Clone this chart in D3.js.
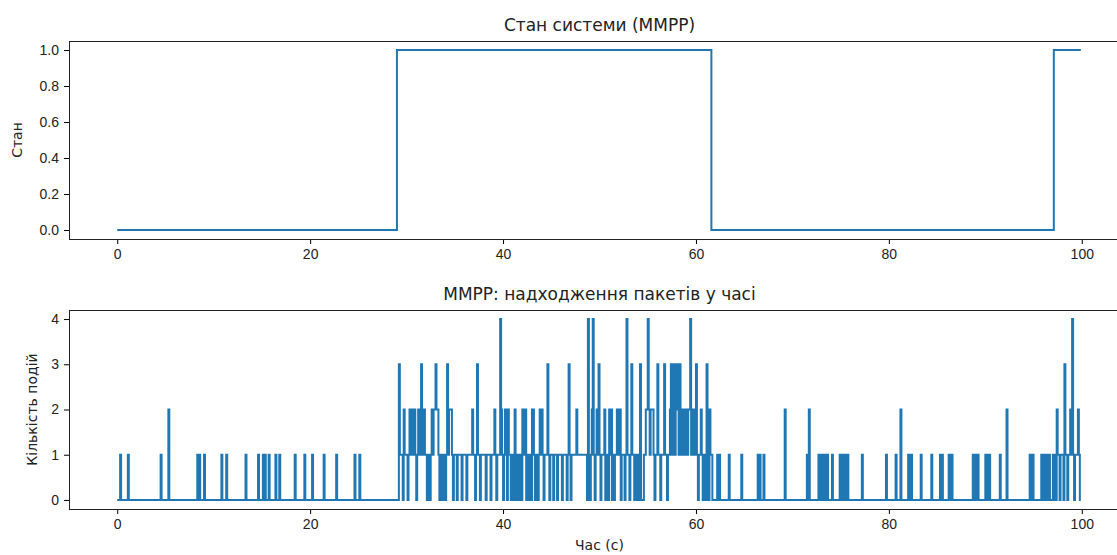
<!DOCTYPE html>
<html>
  <head>
    <meta charset="utf-8">
    <title>MMPP</title>
    <script src="https://cdn.jsdelivr.net/npm/d3@7"></script>
    <style>
body {
  margin: 0;
  background: #fff;
}
svg {
  font-family: "DejaVu Sans", sans-serif;
}
.axis path, .axis line {
  stroke: #000;
  stroke-width: 1;
}
.axis text {
  font-size: 14px;
  fill: #222;
}
.frame {
  fill: none;
  stroke: #222;
  stroke-width: 1;
}
.title {
  font-size: 17px;
  fill: #222;
}
.label {
  font-size: 14px;
  fill: #222;
}
.series {
  fill: none;
  stroke: #1f77b4;
  stroke-width: 2;
}
    </style>
  </head>
  <body>
    <script>

// state of the modulating chain: switch times and the state held after each
var stateTimes = [0, 29.0, 61.6, 97.1, 99.9];
var stateValues = [0, 1, 0, 1, 1];

// packet arrivals, sparse part (time in s, count in a 0.1 s bin)
var eventTimes = [0.3, 1.1, 4.5, 5.3, 8.3, 8.5, 9.0, 10.8, 11.3, 13.3, 14.6, 15.1, 15.3,
  15.7, 16.4, 16.8, 18.4, 19.4, 20.2, 21.4, 22.7, 24.6, 25.1,
  63.4, 64.7, 66.4, 66.6, 67.0, 69.2, 71.5, 71.7, 72.7, 72.9, 73.1, 73.3, 73.6, 74.1,
  74.9, 75.1, 75.3, 75.5, 75.7, 77.2, 79.7, 80.7, 81.2, 82.0, 82.3, 83.3, 84.4, 85.3,
  85.5, 86.2, 86.5, 88.7, 88.9, 89.2, 90.0, 90.2, 90.4, 91.5, 92.2, 94.6, 94.9, 95.8,
  96.0, 96.1, 96.3, 96.5, 96.6];
var eventCounts = [1, 1, 1, 2, 1, 1, 1, 1, 1, 1, 1, 1, 1,
  1, 1, 1, 1, 1, 1, 1, 1, 1, 1,
  1, 1, 1, 1, 1, 2, 1, 2, 1, 1, 1, 1, 1, 1,
  1, 1, 1, 1, 1, 1, 1, 1, 2, 1, 1, 1, 1, 1,
  1, 1, 1, 1, 1, 1, 1, 1, 1, 1, 2, 1, 1, 1,
  1, 1, 1, 1, 1];

// packet arrivals, busy stretches: one digit per 0.1 s bin
var busyStart1 = 290;
var busyCounts1 =
  "0031110211" + "1012121121" + "0121131221" + "1001012122" + "3221011011" +
  "0131222101" + "1101111011" + "1101111121" + "1013110111" + "1101111011" +
  "1210111421" + "0121021101" + "1021011010" + "2112011010" + "2210110121" +
  "2101113101" + "1101110111" + "1011110131" + "0111112111" + "1111111041" +
  "0124101213" + "1011120110" + "2120101122" + "1201110141" + "1013110110" +
  "0130001122" + "4212221011" + "3110111311" + "0112312312" + "3213212212" +
  "2122411211" + "3101121011" + "0310211000" + "0010100000";
var busyStart2 = 970;
var busyCounts2 = "1010211011" + "1031101121" + "4101112100";

var nBins = 1000, dt = 0.1;

var counts = d3.range(nBins).map(function() { return 0; });
eventTimes.forEach(function(t, i) { counts[Math.round(t / dt)] = eventCounts[i]; });
busyCounts1.split("").forEach(function(c, i) { counts[busyStart1 + i] = +c; });
busyCounts2.split("").forEach(function(c, i) { counts[busyStart2 + i] = +c; });

var arrivals = counts.map(function(c, i) { return {t: i * dt, c: c}; });
var states = stateTimes.map(function(t, i) { return {t: t, c: stateValues[i]}; });

var W = 1117, H = 555;
var left = 69, right = 1130;

var svg = d3.select("body").append("svg")
    .attr("width", W)
    .attr("height", H);

var x = d3.scaleLinear().domain([-5, 105]).range([left, right]);

function panel(top, bottom, yDomain, yTicks, yFormat, data, title, ylabel, ylabelX) {
  var y = d3.scaleLinear().domain(yDomain).range([bottom, top]);
  var g = svg.append("g");

  g.append("g")
      .attr("class", "axis")
      .attr("transform", "translate(0," + bottom + ")")
      .call(d3.axisBottom(x).tickValues([0, 20, 40, 60, 80, 100]).tickSize(5).tickPadding(5))
      .call(function(a) { a.select(".domain").remove(); });

  g.append("g")
      .attr("class", "axis")
      .attr("transform", "translate(" + left + ",0)")
      .call(d3.axisLeft(y).tickValues(yTicks).tickFormat(yFormat).tickSize(5).tickPadding(5))
      .call(function(a) { a.select(".domain").remove(); });

  var line = d3.line()
      .curve(d3.curveStepAfter)
      .x(function(d) { return x(d.t); })
      .y(function(d) { return y(d.c); });

  g.append("path")
      .datum(data)
      .attr("class", "series")
      .attr("d", line);

  g.append("rect")
      .attr("class", "frame")
      .attr("x", left + 0.5)
      .attr("y", top + 0.5)
      .attr("width", right - left)
      .attr("height", bottom - top);

  g.append("text")
      .attr("class", "title")
      .attr("x", (left + right) / 2)
      .attr("y", top - 10)
      .attr("text-anchor", "middle")
      .text(title);

  g.append("text")
      .attr("class", "label")
      .attr("transform", "translate(" + ylabelX + "," + (top + bottom) / 2 + ") rotate(-90)")
      .attr("text-anchor", "middle")
      .text(ylabel);
}

panel(41, 239, [-0.05, 1.05], [0, 0.2, 0.4, 0.6, 0.8, 1.0], d3.format(".1f"),
      states, "Стан системи (MMPP)", "Стан", 22);
panel(310, 509, [-0.2, 4.2], [0, 1, 2, 3, 4], d3.format("d"),
      arrivals, "MMPP: надходження пакетів у часі", "Кількість подій", 37);

svg.append("text")
    .attr("class", "label")
    .attr("x", (left + right) / 2)
    .attr("y", 550)
    .attr("text-anchor", "middle")
    .text("Час (с)");

    </script>
  </body>
</html>
